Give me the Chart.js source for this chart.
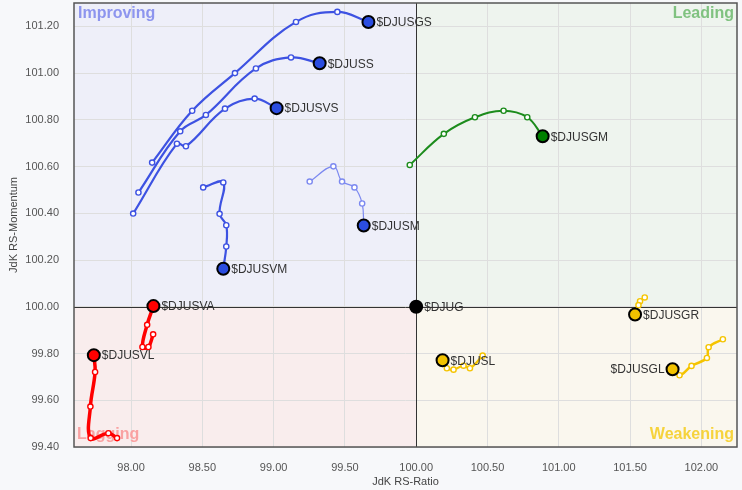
<!DOCTYPE html>
<html><head><meta charset="utf-8">
<script src="https://cdn.jsdelivr.net/npm/chart.js@4.4.0/dist/chart.umd.min.js"></script>
<style>
html,body{margin:0;padding:0;background:#f7f8fa;}
#wrap{width:742px;height:490px;}
</style></head><body>
<div id="wrap"><canvas id="c" width="742" height="490"></canvas></div>
<script>
// Axis ticks
const xTicks = [98, 98.5, 99, 99.5, 100, 100.5, 101, 101.5, 102];
const yTicks = [99.4, 99.6, 99.8, 100, 100.2, 100.4, 100.6, 100.8, 101, 101.2];

// Tails (oldest -> newest; last point is the head)
const djusgsX = [98.148, 98.429, 98.729, 99.157, 99.447, 99.665];
const djusgsY = [100.617, 100.839, 101.000, 101.219, 101.262, 101.219];
const djussX = [98.052, 98.345, 98.525, 98.876, 99.122, 99.323];
const djussY = [100.489, 100.751, 100.821, 101.020, 101.067, 101.042];
const djusvsX = [98.015, 98.322, 98.385, 98.659, 98.867, 99.021];
const djusvsY = [100.399, 100.698, 100.687, 100.848, 100.891, 100.850];
const djusmX = [99.253, 99.419, 99.480, 99.567, 99.621, 99.632];
const djusmY = [100.536, 100.601, 100.536, 100.511, 100.442, 100.348];
const djusvmX = [98.506, 98.647, 98.621, 98.668, 98.668, 98.647];
const djusvmY = [100.511, 100.532, 100.398, 100.349, 100.258, 100.163];
const djusgmX = [99.955, 100.194, 100.412, 100.613, 100.779, 100.887];
const djusgmY = [100.607, 100.740, 100.811, 100.839, 100.811, 100.730];
const djusvaX = [98.155, 98.122, 98.080, 98.113, 98.157];
const djusvaY = [99.882, 99.828, 99.828, 99.923, 100.003];
const djusvlX = [97.902, 97.841, 97.717, 97.715, 97.748, 97.739];
const djusvlY = [99.438, 99.459, 99.438, 99.573, 99.721, 99.793];
const djuslX = [100.466, 100.377, 100.332, 100.262, 100.215, 100.185];
const djuslY = [99.791, 99.737, 99.748, 99.731, 99.737, 99.771];
const djusgrX = [101.603, 101.570, 101.559, 101.535];
const djusgrY = [100.040, 100.024, 100.007, 99.967];
const djusglX = [102.151, 102.051, 102.039, 101.931, 101.847, 101.798];
const djusglY = [99.861, 99.827, 99.781, 99.747, 99.707, 99.733];
const djugX = [100.0];
const djugY = [100.0];

const series = [
  {name:'$DJUSGS', x:djusgsX, y:djusgsY, line:'#3d52e2', head:'#2b4de0', w:2.2},
  {name:'$DJUSS',  x:djussX,  y:djussY,  line:'#3d52e2', head:'#2b4de0', w:2.2},
  {name:'$DJUSVS', x:djusvsX, y:djusvsY, line:'#3d52e2', head:'#2b4de0', w:2.2},
  {name:'$DJUSM',  x:djusmX,  y:djusmY,  line:'#7c89f0', head:'#2b4de0', w:1.2},
  {name:'$DJUSVM', x:djusvmX, y:djusvmY, line:'#3d52e2', head:'#2b4de0', w:2.2},
  {name:'$DJUSGM', x:djusgmX, y:djusgmY, line:'#1c8c1c', head:'#008000', w:2},
  {name:'$DJUSVA', x:djusvaX, y:djusvaY, line:'#ff0000', head:'#ff0000', w:3.5},
  {name:'$DJUSVL', x:djusvlX, y:djusvlY, line:'#ff0000', head:'#ff0000', w:3.5},
  {name:'$DJUSL',  x:djuslX,  y:djuslY,  line:'#f5c400', head:'#f2c200', w:2.2},
  {name:'$DJUSGR', x:djusgrX, y:djusgrY, line:'#f5c400', head:'#f2c200', w:2.2},
  {name:'$DJUSGL', x:djusglX, y:djusglY, line:'#f5c400', head:'#f2c200', w:2.5, left:true},
  {name:'$DJUG',   x:djugX,   y:djugY,   line:'#000000', head:'#000000', w:1}
];

const FONT = "'Liberation Sans', Arial, sans-serif";

const datasets = series.map(s => {
  const n = s.x.length;
  const data = s.x.map((v,i) => ({x:v, y:s.y[i]}));
  return {
    label: s.name,
    data,
    showLine: true,
    tension: 0.4,
    borderColor: s.line,
    borderWidth: s.w,
    pointRadius: data.map((d,i) => i === n-1 ? 6 : 2.6),
    pointBackgroundColor: data.map((d,i) => i === n-1 ? s.head : '#ffffff'),
    pointBorderColor: data.map((d,i) => i === n-1 ? '#000000' : s.line),
    pointBorderWidth: data.map((d,i) => i === n-1 ? 2 : 1.4),
    pointHoverRadius: 0
  };
});

const rrgPlugin = {
  id: 'rrg',
  beforeDatasetsDraw(chart) {
    const {ctx, chartArea:a, scales:{x, y}} = chart;
    const cx = x.getPixelForValue(100), cy = y.getPixelForValue(100);
    ctx.save();
    // quadrant labels
    ctx.font = "bold 16px " + FONT;
    ctx.textBaseline = 'middle';
    ctx.fillStyle = '#8d95ee'; ctx.textAlign = 'left';
    ctx.fillText('Improving', a.left + 4, a.top + 11);
    ctx.fillStyle = '#80c280'; ctx.textAlign = 'right';
    ctx.fillText('Leading', a.right - 3, a.top + 11);
    ctx.fillStyle = '#f9a2a2'; ctx.textAlign = 'left';
    ctx.fillText('Lagging', a.left + 3, a.bottom - 12);
    ctx.fillStyle = '#f6d33c'; ctx.textAlign = 'right';
    ctx.fillText('Weakening', a.right - 3, a.bottom - 12);
    // center lines
    ctx.strokeStyle = '#333333';
    ctx.lineWidth = 1;
    ctx.beginPath();
    ctx.moveTo(Math.round(cx)+0.5, a.top); ctx.lineTo(Math.round(cx)+0.5, a.bottom);
    ctx.moveTo(a.left, Math.round(cy)+0.5); ctx.lineTo(a.right, Math.round(cy)+0.5);
    ctx.stroke();
    ctx.restore();
  },
  beforeDraw(chart) {
    const {ctx, chartArea:a, scales:{x, y}} = chart;
    if (!x || !y) return;
    const cx = x.getPixelForValue(100), cy = y.getPixelForValue(100);
    ctx.save();
    ctx.fillStyle = '#eeeff9'; ctx.fillRect(a.left, a.top, cx - a.left, cy - a.top);
    ctx.fillStyle = '#eef4ee'; ctx.fillRect(cx, a.top, a.right - cx, cy - a.top);
    ctx.fillStyle = '#f9eded'; ctx.fillRect(a.left, cy, cx - a.left, a.bottom - cy);
    ctx.fillStyle = '#faf7ee'; ctx.fillRect(cx, cy, a.right - cx, a.bottom - cy);
    ctx.restore();
  },
  afterDatasetsDraw(chart) {
    const {ctx, chartArea:a, scales:{x, y}} = chart;
    ctx.save();
    ctx.font = "12px " + FONT;
    ctx.fillStyle = '#333333';
    ctx.textBaseline = 'middle';
    series.forEach(s => {
      const n = s.x.length;
      const px = x.getPixelForValue(s.x[n-1]);
      const py = y.getPixelForValue(s.y[n-1]);
      if (s.left) { ctx.textAlign = 'right'; ctx.fillText(s.name, px - 8, py + 1); }
      else { ctx.textAlign = 'left'; ctx.fillText(s.name, px + 8, py + 1); }
    });
    // border
    ctx.strokeStyle = '#555555';
    ctx.lineWidth = 1.5;
    ctx.strokeRect(a.left, a.top, a.right - a.left, a.bottom - a.top);
    ctx.restore();
  }
};

new Chart(document.getElementById('c'), {
  type: 'scatter',
  data: { datasets },
  plugins: [rrgPlugin],
  options: {
    responsive: false,
    devicePixelRatio: 1,
    animation: false,
    layout: { autoPadding: false, padding: { top: 3, right: 5, left: 0, bottom: 0 } },
    plugins: { legend: { display: false }, tooltip: { enabled: false } },
    scales: {
      x: {
        type: 'linear', min: 97.6, max: 102.25,
        afterBuildTicks: s => { s.ticks = xTicks.map(v => ({value: v})); },
        afterFit: s => { s.height = 43; s.paddingLeft = 0; s.paddingRight = 0; },
        ticks: { color: '#555555', font: { size: 11, family: FONT }, padding: 14,
                 callback: v => Number(v).toFixed(2), autoSkip: false, maxRotation: 0 },
        grid: { color: '#dedede', drawTicks: false },
        border: { display: false },
        title: { display: true, text: 'JdK RS-Ratio', color: '#444444',
                 font: { size: 11, family: FONT }, padding: { top: 0, bottom: 1 } }
      },
      y: {
        type: 'linear', min: 99.4, max: 101.3,
        afterBuildTicks: s => { s.ticks = yTicks.map(v => ({value: v})); },
        afterFit: s => { s.width = 74; s.paddingTop = 0; s.paddingBottom = 0; },
        ticks: { color: '#555555', font: { size: 11, family: FONT }, padding: 15,
                 callback: v => Number(v).toFixed(2), autoSkip: false },
        grid: { color: '#dedede', drawTicks: false },
        border: { display: false },
        title: { display: true, text: 'JdK RS-Momentum', color: '#444444',
                 font: { size: 11, family: FONT }, padding: { top: 7, bottom: 0 } }
      }
    }
  }
});
</script>
</body></html>
